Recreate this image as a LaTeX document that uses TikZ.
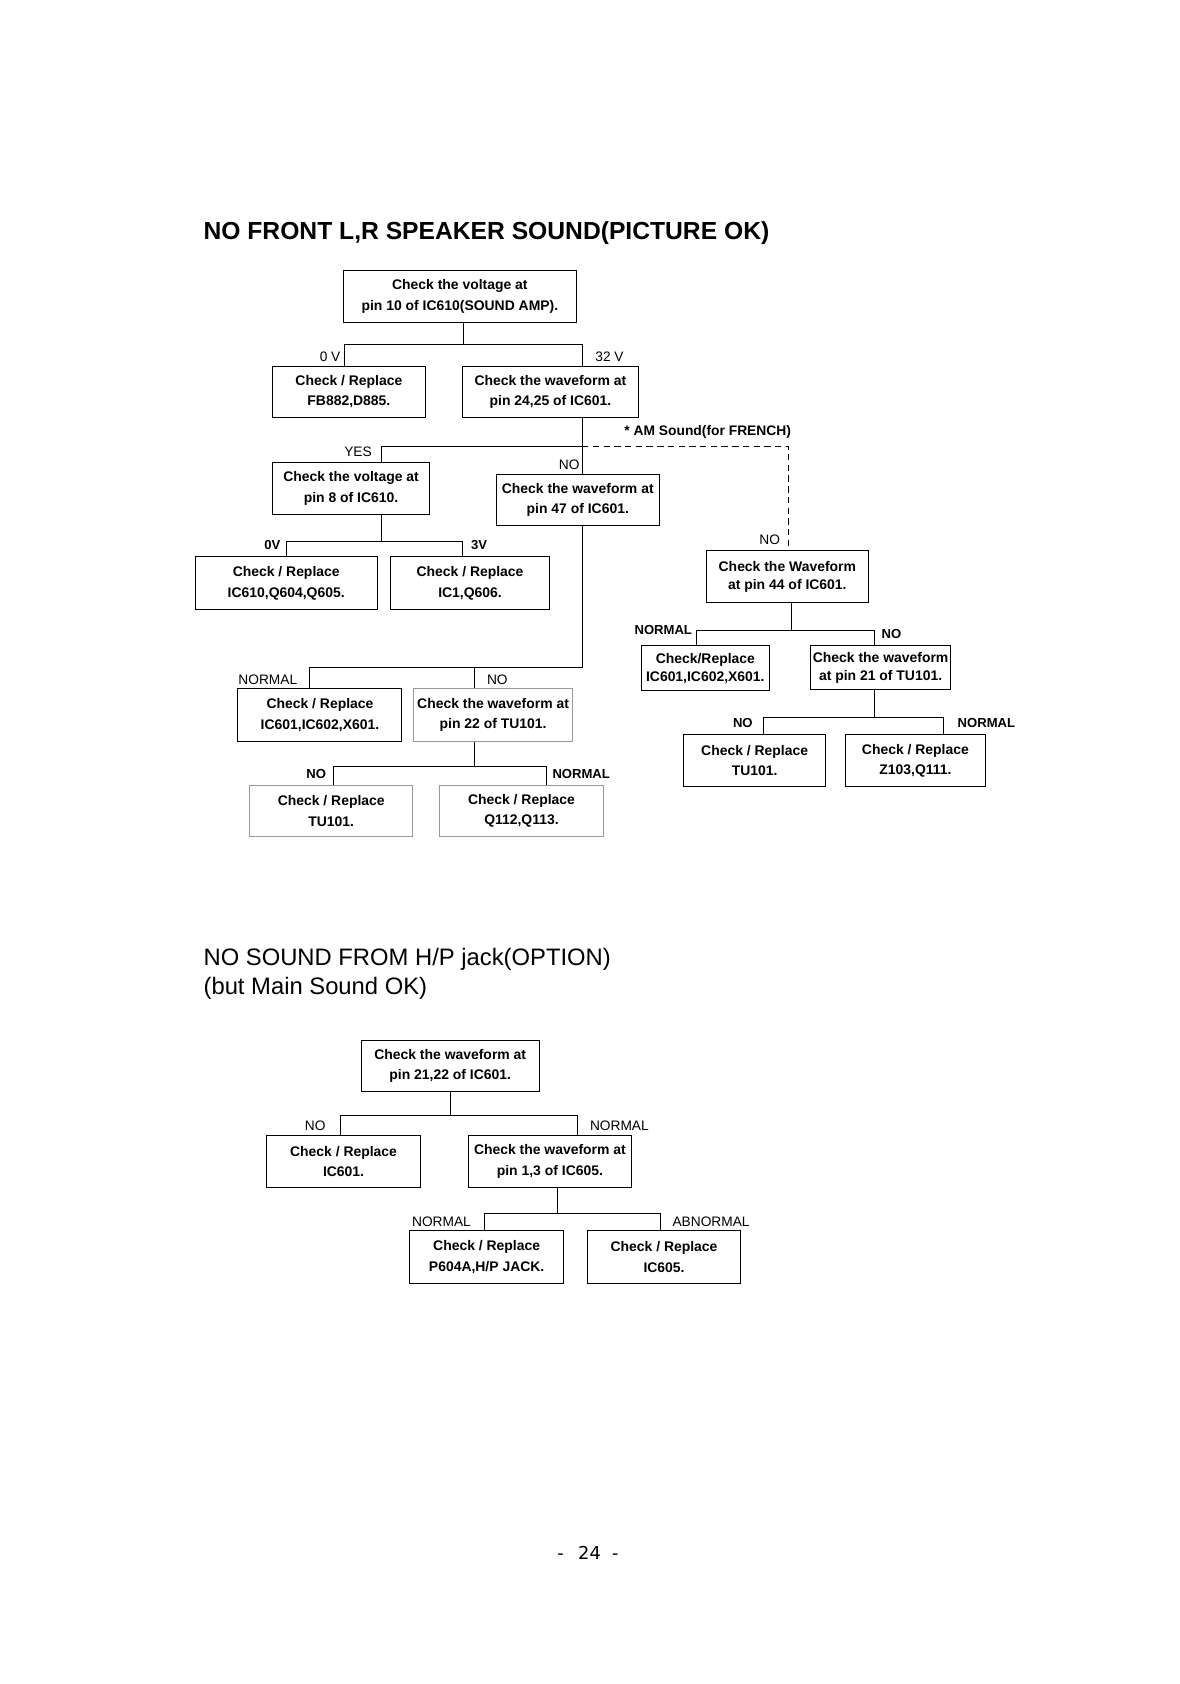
\documentclass[tikz,border=0pt]{standalone}
\usepackage{fontspec}
\setmainfont{Liberation Sans}
\newfontfamily\pgnumfont{DejaVu Sans}
\begin{document}
\begin{tikzpicture}[x=0.5pt,y=-0.5pt, line width=0.45pt,
  bx/.style={draw, inner sep=0pt, align=center, font=\fontsize{6.5}{9.5}\selectfont\bfseries},
  bxs/.style={bx, font=\fontsize{6.5}{8.5}\selectfont\bfseries},
  gbx/.style={bx, draw=black!40},
  lab/.style={inner sep=0pt, font=\fontsize{6.4}{7}\selectfont},
  blab/.style={inner sep=0pt, font=\fontsize{6.1}{7}\selectfont\bfseries}]
\useasboundingbox (0,-1.5) rectangle (1100,1569.5);
\fill[white] (0,-1.5) rectangle (1100,1569.5);

% ---------- Title 1 ----------
\node[anchor=base west, inner sep=0pt, font=\fontsize{11.5}{13}\selectfont\bfseries] (t1) at (189.5,222) {NO FRONT L,R SPEAKER SOUND(PICTURE OK)};

% ---------- Boxes, chart 1 ----------
\node[bx, minimum width=109pt, minimum height=24pt] (A) at (429,275) {Check the voltage at\\pin 10 of IC610(SOUND AMP).};
\node[bx, minimum width=71.5pt, minimum height=24pt] (B) at (325.5,364) {Check / Replace\\FB882,D885.};
\node[bx, minimum width=82.5pt, minimum height=24pt] (C) at (513.5,364) {Check the waveform at\\pin 24,25 of IC601.};
\node[bx, minimum width=73.5pt, minimum height=24pt] (D) at (327.5,454) {Check the voltage at\\pin 8 of IC610.};
\node[bx, minimum width=76pt, minimum height=24pt] (E) at (539,465) {Check the waveform at\\pin 47 of IC601.};
\node[bx, minimum width=85pt, minimum height=24.5pt] (F1) at (267,542.5) {Check / Replace\\IC610,Q604,Q605.};
\node[bx, minimum width=74.5pt, minimum height=24.5pt] (F2) at (438.5,542.5) {Check / Replace\\IC1,Q606.};
\node[bx, minimum width=76.5pt, minimum height=24.5pt] (H1) at (298.5,665.5) {Check / Replace\\IC601,IC602,X601.};
\node[gbx, minimum width=74pt, minimum height=24.5pt] (H2) at (460,665.5) {Check the waveform at\\pin 22 of TU101.};
\node[gbx, minimum width=76pt, minimum height=24pt] (I1) at (309,755) {Check / Replace\\TU101.};
\node[gbx, minimum width=76.5pt, minimum height=24pt] (I2) at (486.5,755) {Check / Replace\\Q112,Q113.};
\node[bxs, minimum width=75.5pt, minimum height=24.5pt] (G) at (734.5,536.5) {Check the Waveform\\at pin 44 of IC601.};
\node[bxs, minimum width=60pt, minimum height=21pt] (J1) at (658,622) {Check/Replace\\IC601,IC602,X601.};
\node[bxs, minimum width=65.5pt, minimum height=20.5pt] (J2) at (821.5,621.5) {Check the waveform\\at pin 21 of TU101.};
\node[bx, minimum width=66pt, minimum height=24pt] (K1) at (704,708) {Check / Replace\\TU101.};
\node[bx, minimum width=65pt, minimum height=24pt] (K2) at (854,708) {Check / Replace\\Z103,Q111.};

% ---------- Connectors, chart 1 ----------
% A -> B, C
\coordinate (aj) at (432,320); \coordinate (al) at (321,320); \coordinate (ar) at (543,320);
\draw (A.south -| aj) -- (aj);
\draw (B.north -| al) -- (al) -- (ar) -- (C.north -| ar);
% C -> D (YES), E (NO), G (dashed)
\coordinate (cj) at (543,415); \coordinate (cl) at (356,415); \coordinate (cr) at (736,415);
\draw (C.south -| cj) -- (E.north -| cj);
\draw (cj) -- (cl) -- (D.north -| cl);
\draw[dash pattern=on 3pt off 2pt] (cj) -- (cr) -- (G.north -| cr);
% D -> F1, F2
\coordinate (dj) at (356,504); \coordinate (dl) at (267,504); \coordinate (dr) at (431,504);
\draw (D.south -| dj) -- (dj);
\draw (F1.north -| dl) -- (dl) -- (dr) -- (F2.north -| dr);
% E -> H1, H2
\coordinate (ej) at (543,621); \coordinate (el) at (289,621); \coordinate (em) at (443,621);
\draw (E.south -| ej) -- (ej) -- (el) -- (H1.north -| el);
\draw (em) -- (H2.north -| em);
% H2 -> I1, I2
\coordinate (hj) at (443,714); \coordinate (hl) at (311,714); \coordinate (hr) at (510,714);
\draw (H2.south -| hj) -- (hj);
\draw (I1.north -| hl) -- (hl) -- (hr) -- (I2.north -| hr);
% G -> J1, J2
\coordinate (gj) at (738,587); \coordinate (gl) at (650,587); \coordinate (gr) at (816,587);
\draw (G.south -| gj) -- (gj);
\draw (J1.north -| gl) -- (gl) -- (gr) -- (J2.north -| gr);
% J2 -> K1, K2
\coordinate (jj) at (816,668); \coordinate (jl) at (712,668); \coordinate (jr) at (880,668);
\draw (J2.south -| jj) -- (jj);
\draw (K1.north -| jl) -- (jl) -- (jr) -- (K2.north -| jr);

% ---------- Labels, chart 1 ----------
\node[lab, anchor=east] (l0v) at (318,331) {0 V};
\node[lab, anchor=west] (l32v) at (555,331) {32 V};
\node[lab] (lyes) at (334,420) {YES};
\node[lab] (lno1) at (531,432) {NO};
\node[blab, anchor=west, font=\fontsize{6.45}{7}\selectfont\bfseries] (lam) at (582,401) {* AM Sound(for FRENCH)};
\node[blab] (l0vb) at (254,507) {0V};
\node[blab] (l3vb) at (447,507) {3V};
\node[lab, anchor=west] (lnorm1) at (222,633) {NORMAL};
\node[lab] (lno2) at (464,633) {NO};
\node[blab] (lno3) at (295,721) {NO};
\node[blab, anchor=west] (lnorm2) at (515,721) {NORMAL};
\node[lab] (lno4) at (718,502) {NO};
\node[blab, anchor=east] (lnorm3) at (646,586) {NORMAL};
\node[blab, anchor=west] (lno5) at (822,590) {NO};
\node[blab] (lno6) at (693,673) {NO};
\node[blab, anchor=west] (lnorm4) at (893,673) {NORMAL};

% ---------- Title 2 ----------
\node[anchor=base west, inner sep=0pt, font=\fontsize{11.1}{13}\selectfont] (t2a) at (189.5,899) {NO SOUND FROM H/P jack(OPTION)};
\node[anchor=base west, inner sep=0pt, font=\fontsize{11.1}{13}\selectfont] (t2b) at (189.5,926) {(but Main Sound OK)};

% ---------- Chart 2 ----------
\node[bx, minimum width=83pt, minimum height=24pt] (L) at (420,993) {Check the waveform at\\pin 21,22 of IC601.};
\node[bx, minimum width=71.5pt, minimum height=24pt] (M1) at (320.5,1082) {Check / Replace\\IC601.};
\node[bx, minimum width=76pt, minimum height=24pt] (M2) at (513,1082) {Check the waveform at\\pin 1,3 of IC605.};
\node[bx, minimum width=72pt, minimum height=25pt] (N1) at (454,1171) {Check / Replace\\P604A,H/P JACK.};
\node[bx, minimum width=71.5pt, minimum height=25pt] (N2) at (619.5,1171) {Check / Replace\\IC605.};

\coordinate (lj) at (420,1039); \coordinate (ll) at (318,1039); \coordinate (lr) at (539,1039);
\draw (L.south -| lj) -- (lj);
\draw (M1.north -| ll) -- (ll) -- (lr) -- (M2.north -| lr);
\coordinate (mj) at (520,1131); \coordinate (ml) at (452,1131); \coordinate (mr) at (616,1131);
\draw (M2.south -| mj) -- (mj);
\draw (N1.north -| ml) -- (ml) -- (mr) -- (N2.north -| mr);

\node[lab] (lno7) at (294,1049) {NO};
\node[lab, anchor=west] (lnorm5) at (550,1049) {NORMAL};
\node[lab, anchor=west] (lnorm6) at (384,1138) {NORMAL};
\node[lab, anchor=west] (labn) at (627,1138) {ABNORMAL};

% ---------- Page number ----------
\node[anchor=base, inner sep=0pt, font=\pgnumfont\fontsize{8.3}{10}\selectfont] (pg) at (550,1453.5) {24};
\node[anchor=base, inner sep=0pt, font=\pgnumfont\fontsize{8.3}{10}\selectfont] (pgl) at (523,1453.5) {-};
\node[anchor=base, inner sep=0pt, font=\pgnumfont\fontsize{8.3}{10}\selectfont] (pgr) at (574,1453.5) {-};
\end{tikzpicture}
\end{document}
